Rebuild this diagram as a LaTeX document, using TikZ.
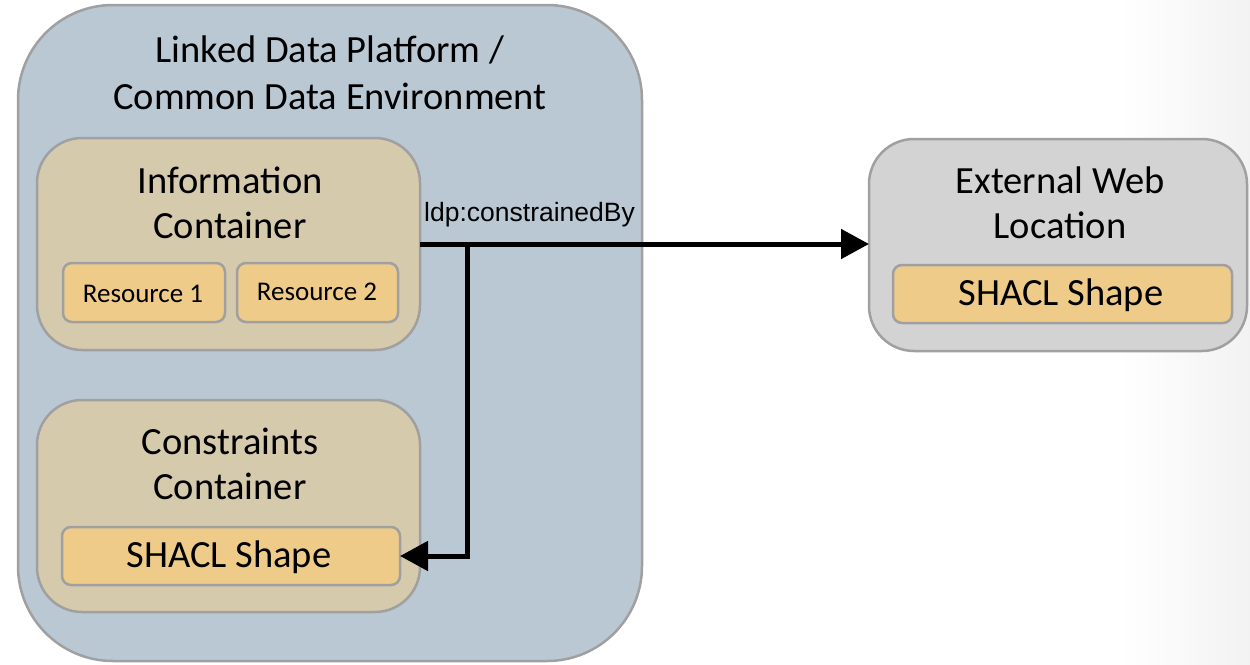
\documentclass[tikz,border=0pt]{standalone}
\usepackage{fontspec}
\setmainfont{Carlito}
\newfontfamily\arialfont{Liberation Sans}
\usetikzlibrary{arrows.meta,calc}

\definecolor{platformfill}{HTML}{BAC8D4}
\definecolor{containerfill}{HTML}{D6CAAD}
\definecolor{itemfill}{HTML}{EECB88}
\definecolor{externalfill}{HTML}{D3D3D3}
\definecolor{edgegray}{HTML}{A0A0A0}

\tikzset{
  box/.style={draw=edgegray, line width=2.5pt, inner sep=0pt, outer sep=0pt},
  platform/.style={box, fill=platformfill, rounded corners=95pt},
  container/.style={box, fill=containerfill, rounded corners=45pt},
  external/.style={box, fill=externalfill, rounded corners=45pt},
  item/.style={box, fill=itemfill, rounded corners=9pt},
  bigtext/.style={align=center, inner sep=0pt, font=\fontsize{38.5}{45}\selectfont},
  smalltext/.style={inner sep=0pt, font=\fontsize{27}{30}\selectfont},
  linktext/.style={inner sep=0pt, font=\arialfont\fontsize{26.5}{30}\selectfont},
  conn/.style={line width=5pt, -{Triangle[length=28pt,width=29pt]}},
}

\begin{document}
\begin{tikzpicture}[x=1pt, y=-1pt]
  \useasboundingbox (0,0) rectangle (1250,664);
  % soft gray fade along the right edge
  \shade[left color=white, right color=black!5, draw=none] (1120,0) rectangle (1250,664);

  % platform
  \node[platform, minimum width=624pt, minimum height=656pt] (platform) at (330,333) {};
  \node[bigtext, font=\fontsize{38.5}{47}\selectfont] (platformtitle) at (330,73)
    {Linked Data Platform /\\Common Data Environment};

  % information container
  \node[container, minimum width=383pt, minimum height=212pt] (info) at (228.5,244) {};
  \node[bigtext] (infotitle) at (230,203) {Information\\Container};
  \node[item, minimum width=162pt, minimum height=59pt] (res1) at (144,292.5) {};
  \node[smalltext] (res1text) at (143,294) {Resource 1};
  \node[item, minimum width=161pt, minimum height=59pt] (res2) at (317.5,292.5) {};
  \node[smalltext] (res2text) at (317,292) {Resource 2};

  % constraints container
  \node[container, minimum width=383pt, minimum height=212pt] (cons) at (228.5,506) {};
  \node[bigtext] (constitle) at (230,464) {Constraints\\Container};
  \node[item, minimum width=338pt, minimum height=58pt] (cshape) at (231,556) {};
  \node[bigtext] (cshapetext) at (229,557) {SHACL Shape};

  % external location
  \node[external, minimum width=378pt, minimum height=212pt] (ext) at (1058,245) {};
  \node[bigtext] (exttitle) at (1060,203) {External Web\\Location};
  \node[item, minimum width=339pt, minimum height=58pt] (eshape) at (1062.5,294) {};
  \node[bigtext] (eshapetext) at (1061,295) {SHACL Shape};

  % constraint links
  \node[linktext, anchor=west] (linklabel) at (424,215) {ldp:constrainedBy};
  \coordinate (split) at ($(info.east)+(47,0)$);
  \draw[conn] (info.east) -- (info.east -| ext.west);
  \draw[conn] (split) |- (cshape.east);
\end{tikzpicture}
\end{document}
